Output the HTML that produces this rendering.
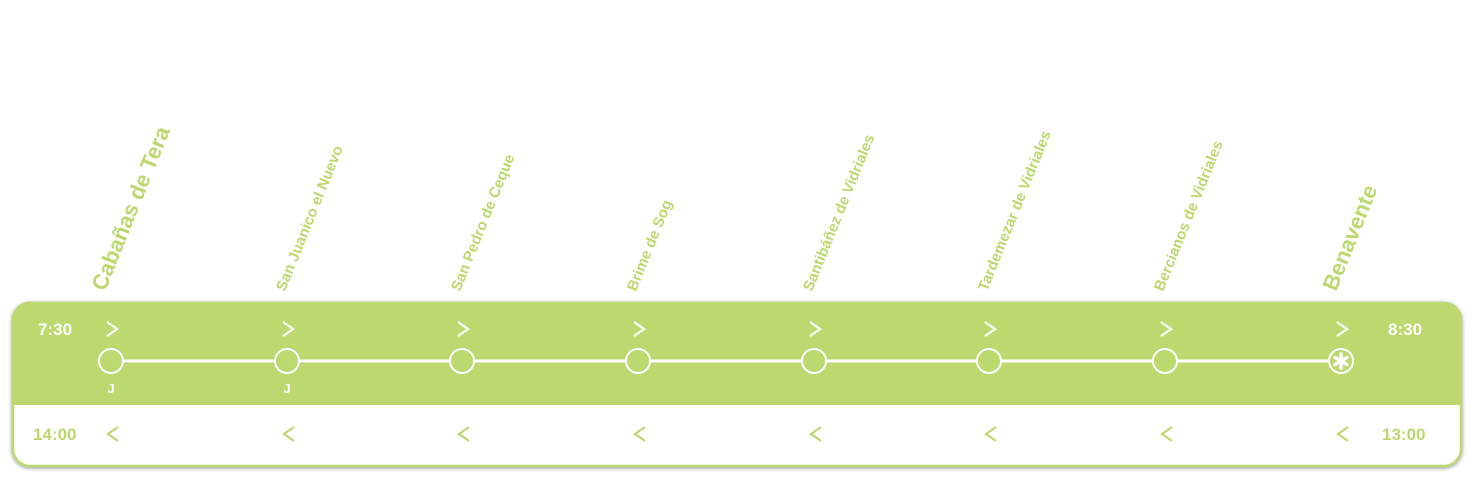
<!DOCTYPE html>
<html><head><meta charset="utf-8"><style>
html,body{margin:0;padding:0;background:#fff;width:1474px;height:484px;overflow:hidden}
</style></head><body>
<svg width="1474" height="484" xmlns="http://www.w3.org/2000/svg" font-family="Liberation Sans, sans-serif">
<defs>
<filter id="sh" x="-5%" y="-20%" width="110%" height="140%"><feDropShadow dx="0" dy="1" stdDeviation="2" flood-color="#000" flood-opacity="0.45"/></filter>
<clipPath id="cp"><rect x="12" y="302" width="1450" height="165" rx="18"/></clipPath>
</defs>
<rect x="12" y="302" width="1450" height="165" rx="18" fill="#fff" filter="url(#sh)"/>
<g clip-path="url(#cp)">
<rect x="12" y="302" width="1450" height="103" fill="#bcd86e"/>
</g>
<rect x="13" y="303" width="1448" height="163" rx="17" fill="none" stroke="#bcd86e" stroke-width="2.5"/>
<line x1="111" y1="361" x2="1341" y2="361" stroke="#fff" stroke-width="3"/>
<g fill="#bcd86e" stroke="#fff" stroke-width="2">
<circle cx="111" cy="361" r="12"/><circle cx="287" cy="361" r="12"/><circle cx="462" cy="361" r="12"/><circle cx="638" cy="361" r="12"/><circle cx="814" cy="361" r="12"/><circle cx="989" cy="361" r="12"/><circle cx="1165" cy="361" r="12"/><circle cx="1341" cy="361" r="12"/>
</g>
<g stroke="#fff" stroke-width="3.5" stroke-linecap="round">
<path d="M1341 354v14M1335 357.5l12 7M1335 364.5l12-7"/>
</g>
<g font-weight="bold" font-size="17" fill="#fff">
<text x="38" y="335">7:30</text>
<text x="1388" y="335">8:30</text>
</g>
<g font-weight="bold" font-size="13" fill="#fff" text-anchor="middle">
<text x="111" y="393">J</text><text x="287" y="393">J</text>
</g>
<g font-weight="bold" font-size="17" fill="#bcd86e">
<text x="33" y="440">14:00</text>
<text x="1382" y="440">13:00</text>
</g>
<g fill="none" stroke="#fff" stroke-width="2.2">
<path d="M107 322l10 7-10 7M283 322l10 7-10 7M458 322l10 7-10 7M634 322l10 7-10 7M810 322l10 7-10 7M985 322l10 7-10 7M1161 322l10 7-10 7M1337 322l10 7-10 7"/>
</g>
<g fill="none" stroke="#bcd86e" stroke-width="2.2">
<path d="M118 427l-10 7 10 7M294 427l-10 7 10 7M469 427l-10 7 10 7M645 427l-10 7 10 7M821 427l-10 7 10 7M996 427l-10 7 10 7M1172 427l-10 7 10 7M1348 427l-10 7 10 7"/>
</g>
<g fill="#bcd86e" font-weight="bold">
<text font-size="22" transform="translate(105 292) rotate(-68)">Cabañas de Tera</text>
<text font-size="15" transform="translate(285 292) rotate(-68)">San Juanico el Nuevo</text>
<text font-size="15" transform="translate(460 292) rotate(-68)">San Pedro de Ceque</text>
<text font-size="15" transform="translate(636 292) rotate(-68)">Brime de Sog</text>
<text font-size="15" transform="translate(812 292) rotate(-68)">Santibáñez de Vidriales</text>
<text font-size="15" transform="translate(987 292) rotate(-68)">Tardemezar de Vidriales</text>
<text font-size="15" transform="translate(1163 292) rotate(-68)">Bercianos de Vidriales</text>
<text font-size="22" transform="translate(1336 292) rotate(-68)">Benavente</text>
</g>
</svg>
</body></html>
